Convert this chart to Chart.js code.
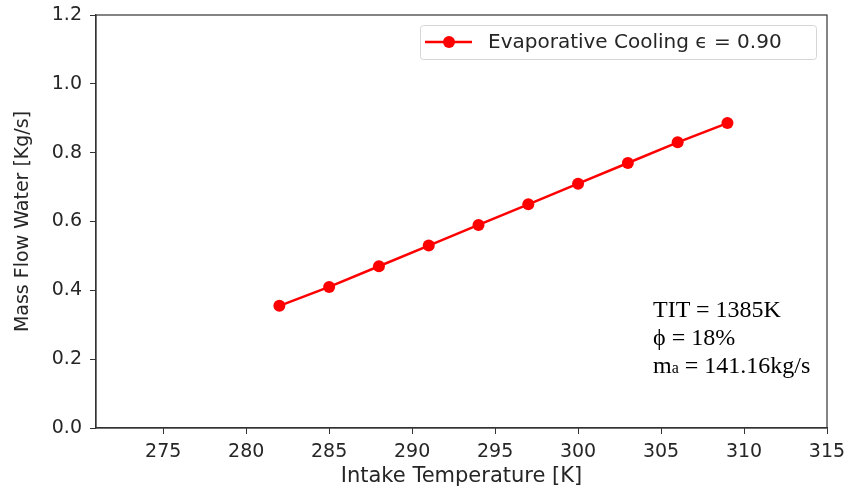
<!DOCTYPE html>
<html>
<head>
<meta charset="utf-8">
<script src="https://cdn.jsdelivr.net/npm/chart.js@4"></script>
<style>
  html, body { margin: 0; padding: 0; background: #fff; }
  #wrap { position: relative; width: 846px; height: 491px; }
  #note { position: absolute; left: 653px; top: 295px; font-family: "Liberation Serif", serif; font-size: 24px; line-height: 28px; color: #000; white-space: nowrap; }
  #note sub { font-size: 16px; vertical-align: 0; }
</style>
</head>
<body>
<div id="wrap">
  <canvas id="chart" width="846" height="491"></canvas>
  <div id="note">TIT = 1385K<br>ϕ = 18%<br>m<sub>a</sub> = 141.16kg/s</div>
</div>
<script>
// data
const temps = [282, 285, 288, 291, 294, 297, 300, 303, 306, 309];
const water = [0.355, 0.41, 0.47, 0.53, 0.59, 0.65, 0.71, 0.77, 0.83, 0.886];
const xTicks = [275, 280, 285, 290, 295, 300, 305, 310, 315];
const seriesLabel = "Evaporative Cooling \u03f5 = 0.90";

const textColor = "#262626";

// frame round the plot + legend drawn inside the axes
const framePlugin = {
    id: "frame",
    afterDraw(chart) {
        const ctx = chart.ctx;
        const a = chart.chartArea;
        ctx.save();
        ctx.strokeStyle = "#333";
        ctx.lineWidth = 1.2;
        ctx.strokeRect(a.left, a.top, a.right - a.left, a.bottom - a.top);

        // legend box
        const bx = 420, by = 25, bw = 396, bh = 34;
        ctx.strokeStyle = "#d5d5d5";
        ctx.lineWidth = 1;
        ctx.beginPath();
        ctx.roundRect(bx + 0.5, by + 0.5, bw, bh, 3);
        ctx.fillStyle = "rgba(255,255,255,0.8)";
        ctx.fill();
        ctx.stroke();
        const ly = by + bh / 2;
        ctx.strokeStyle = "red";
        ctx.lineWidth = 2.5;
        ctx.beginPath();
        ctx.moveTo(425, ly);
        ctx.lineTo(472, ly);
        ctx.stroke();
        ctx.fillStyle = "red";
        ctx.beginPath();
        ctx.arc(449, ly, 6, 0, Math.PI * 2);
        ctx.fill();
        ctx.fillStyle = textColor;
        ctx.font = "20px 'DejaVu Sans'";
        ctx.textBaseline = "middle";
        ctx.fillText(chart.data.datasets[0].label, 488, ly + 1);
        ctx.restore();
    }
};

new Chart(document.getElementById("chart"), {
    type: "line",
    data: {
        datasets: [{
            label: seriesLabel,
            data: temps.map((t, i) => ({ x: t, y: water[i] })),
            borderColor: "red",
            backgroundColor: "red",
            borderWidth: 2.5,
            pointRadius: 6,
            pointHoverRadius: 6,
            pointBorderWidth: 0,
            tension: 0
        }]
    },
    options: {
        responsive: false,
        animation: false,
        layout: { padding: { left: 0, right: 19, top: 15, bottom: 0 } },
        plugins: {
            legend: { display: false },
            tooltip: { enabled: false }
        },
        scales: {
            x: {
                type: "linear",
                min: 270.95,
                max: 315,
                afterBuildTicks: scale => { scale.ticks = xTicks.map(v => ({ value: v })); },
                afterFit: scale => { scale.height = 63; scale.paddingLeft = 0; scale.paddingRight = 0; },
                grid: { drawOnChartArea: false, tickLength: 6, tickColor: "#333" },
                border: { color: "#333", width: 1.2 },
                ticks: { color: textColor, font: { family: "'DejaVu Sans'", size: 19 }, padding: 7, maxRotation: 0 },
                title: { display: true, text: "Intake Temperature [K]", color: textColor, font: { family: "'DejaVu Sans'", size: 21 }, padding: { top: 0, bottom: 1.5 } }
            },
            y: {
                min: 0,
                max: 1.2,
                afterFit: scale => { scale.width = 96; scale.paddingTop = 0; scale.paddingBottom = 0; },
                grid: { drawOnChartArea: false, tickLength: 6, tickColor: "#333" },
                border: { color: "#333", width: 1.2 },
                ticks: { stepSize: 0.2, color: textColor, font: { family: "'DejaVu Sans'", size: 19 }, padding: 8, callback: v => v.toFixed(1) },
                title: { display: true, text: "Mass Flow Water [Kg/s]", color: textColor, font: { family: "'DejaVu Sans'", size: 19 }, padding: { top: 12, bottom: 0 } }
            }
        }
    },
    plugins: [framePlugin]
});
</script>
</body>
</html>
